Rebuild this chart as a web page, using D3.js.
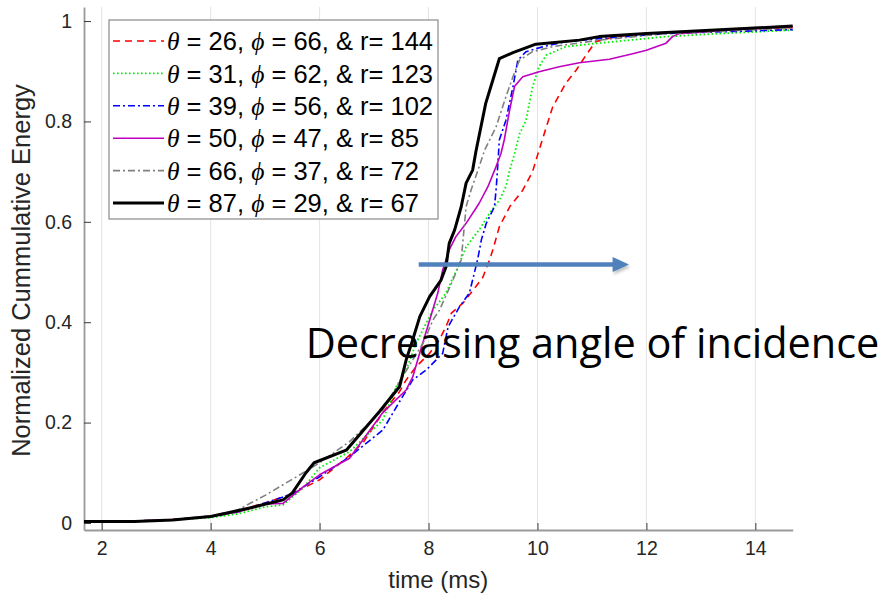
<!DOCTYPE html>
<html>
<head>
<meta charset="utf-8">
<script src="https://cdn.jsdelivr.net/npm/d3@7"></script>
<style>
  body { margin: 0; background: #fff; }
  svg { display: block; }
</style>
</head>
<body>
<svg id="chart" width="884" height="602"></svg>
<script>

// legend parameters for each run
var thetas = [26, 31, 39, 50, 66, 87];
var phis = [66, 62, 56, 47, 37, 29];
var radii = [144, 123, 102, 85, 72, 67];

var xTicks = [2, 4, 6, 8, 10, 12, 14];
var yTicks = [0, 0.2, 0.4, 0.6, 0.8, 1];
var yTickLabels = ["0", "0.2", "0.4", "0.6", "0.8", "1"];

// [time (ms), normalized cumulative energy]
var run26 = [[1.675,0.004],[2.5,0.004],[3.0,0.005],[3.5,0.008],[4.0,0.014],[4.5,0.024],[5.0,0.04],[5.5,0.058],[6.0,0.086],[6.5,0.13],[6.8,0.16],[7.16,0.22],[7.47,0.262],[7.59,0.285],[7.77,0.311],[8.02,0.338],[8.2,0.365],[8.32,0.391],[8.42,0.418],[8.63,0.438],[8.87,0.471],[9.0,0.49],[9.12,0.524],[9.18,0.544],[9.3,0.59],[9.49,0.63],[9.73,0.663],[9.91,0.70],[10.03,0.743],[10.28,0.829],[10.52,0.876],[10.71,0.902],[10.89,0.932],[11.07,0.959],[11.44,0.969],[12.0,0.975],[12.66,0.979],[13.5,0.983],[14.686,0.987]];
var run31 = [[1.675,0.004],[2.6,0.004],[3.3,0.006],[4.0,0.011],[4.5,0.018],[5.0,0.032],[5.33,0.036],[5.7,0.07],[6.0,0.11],[6.55,0.142],[7.16,0.205],[7.41,0.272],[7.59,0.305],[7.77,0.358],[8.08,0.424],[8.32,0.458],[8.54,0.51],[8.69,0.55],[8.93,0.584],[9.12,0.617],[9.3,0.643],[9.42,0.67],[9.49,0.703],[9.58,0.736],[9.67,0.775],[9.79,0.802],[9.91,0.869],[10.03,0.909],[10.16,0.932],[10.52,0.949],[11.13,0.956],[12.36,0.969],[13.5,0.976],[14.686,0.982]];
var run39 = [[1.675,0.003],[2.6,0.004],[3.3,0.006],[4.0,0.013],[4.5,0.022],[5.0,0.04],[5.5,0.058],[6.0,0.092],[6.55,0.132],[7.16,0.185],[7.47,0.242],[7.71,0.285],[7.96,0.305],[8.26,0.338],[8.36,0.391],[8.57,0.431],[8.75,0.458],[8.9,0.524],[8.97,0.564],[9.06,0.597],[9.21,0.63],[9.24,0.663],[9.27,0.71],[9.3,0.763],[9.42,0.802],[9.55,0.869],[9.64,0.922],[9.79,0.939],[10.1,0.949],[10.52,0.959],[11.13,0.965],[12.36,0.975],[14.686,0.983]];
var run50 = [[1.675,0.003],[2.6,0.004],[3.3,0.007],[4.0,0.013],[4.5,0.022],[5.0,0.038],[5.33,0.039],[5.7,0.072],[6.0,0.096],[6.55,0.129],[7.16,0.22],[7.59,0.265],[7.71,0.291],[7.84,0.339],[8.02,0.404],[8.17,0.458],[8.26,0.504],[8.38,0.544],[8.5,0.57],[8.69,0.597],[8.93,0.637],[9.09,0.67],[9.24,0.71],[9.33,0.736],[9.39,0.763],[9.49,0.823],[9.58,0.87],[9.73,0.889],[10.03,0.899],[10.4,0.909],[10.77,0.917],[11.32,0.924],[11.75,0.935],[12.0,0.942],[12.36,0.956],[12.48,0.969],[12.6,0.975],[13.5,0.982],[14.686,0.989]];
var run66 = [[1.675,0.004],[2.6,0.004],[3.3,0.007],[4.0,0.014],[4.5,0.026],[5.0,0.055],[5.7,0.10],[6.0,0.12],[6.55,0.162],[7.16,0.225],[7.71,0.325],[7.9,0.358],[8.08,0.404],[8.2,0.424],[8.42,0.477],[8.6,0.524],[8.69,0.63],[8.78,0.663],[8.93,0.71],[9.03,0.743],[9.24,0.789],[9.42,0.849],[9.55,0.889],[9.67,0.922],[9.91,0.939],[10.28,0.949],[11.13,0.962],[12.36,0.975],[14.686,0.986]];
var run87 = [[1.675,0.003],[2.6,0.003],[3.3,0.006],[4.0,0.013],[4.3,0.02],[4.72,0.03],[5.33,0.046],[5.5,0.06],[5.75,0.10],[5.9,0.12],[6.49,0.145],[7.1,0.222],[7.47,0.272],[7.59,0.325],[7.71,0.365],[7.84,0.411],[8.02,0.451],[8.23,0.484],[8.32,0.51],[8.38,0.557],[8.48,0.584],[8.6,0.63],[8.69,0.677],[8.81,0.703],[8.87,0.74],[9.05,0.836],[9.18,0.882],[9.3,0.925],[9.55,0.937],[9.97,0.954],[10.77,0.962],[11.13,0.969],[12.0,0.975],[14.686,0.99]];

var runs = [run26, run31, run39, run50, run66, run87];

// matlab-ish line styles, in plotting order
var styles = [
    {color: "#ff0000", width: 1.6, dash: "7,5"},
    {color: "#00ee00", width: 1.8, dash: "1.6,2.4"},
    {color: "#0000ff", width: 1.6, dash: "7,3,2,3"},
    {color: "#bf00bf", width: 1.6, dash: null},
    {color: "#808080", width: 1.6, dash: "7,3,2,3"},
    {color: "#000000", width: 3, dash: null}
];

var svg = d3.select("#chart");
var margin = {top: 7, right: 91.3, bottom: 72, left: 84};
var width = 884, height = 602;

var xScale = d3.scaleLinear()
    .domain([1.675, 14.686])
    .range([margin.left, width - margin.right]);

var yScale = d3.scaleLinear()
    .domain([-0.014, 1.028])
    .range([height - margin.bottom, margin.top]);

svg.append("rect").attr("width", width).attr("height", height).attr("fill", "#fff");

// vertical grid only
svg.append("g")
    .selectAll("line")
    .data(xTicks)
    .enter().append("line")
    .attr("x1", d => xScale(d)).attr("x2", d => xScale(d))
    .attr("y1", yScale.range()[1]).attr("y2", yScale.range()[0])
    .attr("stroke", "#e4e4e4")
    .attr("stroke-width", 1);

var tickFont = "'Liberation Sans', Arial, sans-serif";

var xAxis = d3.axisBottom(xScale)
    .tickValues(xTicks)
    .tickFormat(d3.format("d"))
    .tickSizeInner(-7)
    .tickSizeOuter(0)
    .tickPadding(11);

var xAxisG = svg.append("g")
    .attr("transform", "translate(0," + yScale.range()[0] + ")")
    .call(xAxis);

var yAxis = d3.axisLeft(yScale)
    .tickValues(yTicks)
    .tickFormat((d, i) => yTickLabels[i])
    .tickSizeInner(-7)
    .tickSizeOuter(0)
    .tickPadding(12);

var yAxisG = svg.append("g")
    .attr("transform", "translate(" + margin.left + ",0)")
    .call(yAxis);

[xAxisG, yAxisG].forEach(function(g) {
    g.select(".domain").attr("stroke", "#9a9a9a").attr("stroke-width", 1.8);
    g.selectAll(".tick line").attr("stroke", "#3a3a3a").attr("stroke-width", 1);
    g.selectAll(".tick text")
        .attr("fill", "#262626")
        .style("font-family", tickFont)
        .style("font-size", "19.5px");
});

// axis titles
svg.append("text")
    .attr("x", (xScale.range()[0] + xScale.range()[1]) / 2)
    .attr("y", 588)
    .attr("text-anchor", "middle")
    .attr("fill", "#262626")
    .style("font-family", tickFont)
    .style("font-size", "24px")
    .text("time (ms)");

svg.append("text")
    .attr("transform", "translate(30," + ((yScale.range()[0] + yScale.range()[1]) / 2 + 2) + ") rotate(-90)")
    .attr("text-anchor", "middle")
    .attr("fill", "#262626")
    .style("font-family", tickFont)
    .style("font-size", "25.5px")
    .text("Normalized Cummulative Energy");

// the curves
var lineGenerator = d3.line()
    .x(d => xScale(d[0]))
    .y(d => yScale(d[1]));

runs.forEach(function(run, i) {
    svg.append("path")
        .attr("d", lineGenerator(run))
        .attr("fill", "none")
        .attr("stroke", styles[i].color)
        .attr("stroke-width", styles[i].width)
        .attr("stroke-dasharray", styles[i].dash)
        .attr("stroke-linejoin", "round");
});

// legend box
var legend = svg.append("g");
legend.append("rect")
    .attr("x", 109).attr("y", 20)
    .attr("width", 329).attr("height", 199)
    .attr("fill", "#fff")
    .attr("stroke", "#8a8a8a")
    .attr("stroke-width", 1.2);

var greek = "'Liberation Serif', 'DejaVu Serif', serif";

thetas.forEach(function(theta, i) {
    var rowY = 41 + i * 32.4;
    legend.append("line")
        .attr("x1", 113).attr("x2", 164)
        .attr("y1", rowY).attr("y2", rowY)
        .attr("stroke", styles[i].color)
        .attr("stroke-width", styles[i].width)
        .attr("stroke-dasharray", styles[i].dash);

    var t = legend.append("text")
        .attr("x", 167).attr("y", rowY)
        .attr("dy", "0.36em")
        .attr("fill", "#000")
        .style("font-family", tickFont)
        .style("font-size", "25.5px");
    t.append("tspan").style("font-family", greek).style("font-style", "italic").text("\u03b8");
    t.append("tspan").text(" = " + theta + ", ");
    t.append("tspan").style("font-family", greek).style("font-style", "italic").text("\u03d5");
    t.append("tspan").text(" = " + phis[i] + ", & r= " + radii[i]);
});

// arrow annotation
var defs = svg.append("defs");
var blur = defs.append("filter").attr("id", "shadow").attr("x", "-10%").attr("y", "-100%").attr("width", "120%").attr("height", "300%");
blur.append("feGaussianBlur").attr("stdDeviation", 1.5);

var arrowY = yScale(0.515);
var arrowStart = xScale(7.82), arrowBase = xScale(11.38), arrowTip = xScale(11.68);

function arrowShape(g, color, filter) {
    g.append("line")
        .attr("x1", arrowStart).attr("x2", arrowBase + 1)
        .attr("y1", arrowY).attr("y2", arrowY)
        .attr("stroke", color).attr("stroke-width", 4.5)
        .attr("filter", filter);
    g.append("path")
        .attr("d", "M" + arrowBase + "," + (arrowY - 7.5) + "L" + arrowTip + "," + arrowY + "L" + arrowBase + "," + (arrowY + 7.5) + "Z")
        .attr("fill", color)
        .attr("filter", filter);
}

var shadowG = svg.append("g").attr("transform", "translate(1.5,2.5)").attr("opacity", 0.35);
arrowShape(shadowG, "#555", "url(#shadow)");
arrowShape(svg.append("g"), "#4f81bd", null);

// text annotation, stretched to end at the right of the picture
var note = svg.append("text")
    .attr("x", xScale(5.745))
    .attr("y", yScale(0.329))
    .attr("fill", "#000")
    .style("font-family", "'Open Sans', sans-serif")
    .style("font-size", "38px")
    .text("Decreasing angle of incidence");

var noteLen = note.node().getComputedTextLength();
note.style("font-size", (38 * 574 / noteLen) + "px");

</script>
</body>
</html>
